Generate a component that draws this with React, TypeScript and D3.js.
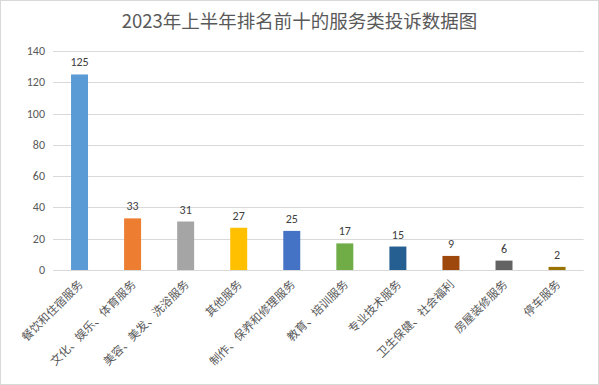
import React from "react";
import * as d3 from "d3";

const title = "2023年上半年排名前十的服务类投诉数据图";
const categories = [
  "餐饮和住宿服务",
  "文化、娱乐、体育服务",
  "美容、美发、洗浴服务",
  "其他服务",
  "制作、保养和修理服务",
  "教育、培训服务",
  "专业技术服务",
  "卫生保健、社会福利",
  "房屋装修服务",
  "停车服务",
];
const values = [125, 33, 31, 27, 25, 17, 15, 9, 6, 2];
const colors = [
  "#5B9BD5",
  "#ED7D31",
  "#A5A5A5",
  "#FFC000",
  "#4472C4",
  "#70AD47",
  "#255E91",
  "#9E480E",
  "#636363",
  "#997300",
];
const yTicks = [0, 20, 40, 60, 80, 100, 120, 140];

const W = 599;
const H = 385;
const left = 53;
const right = 583.6;
const top = 51;
const bottom = 270;

const cjk = "'Noto Sans CJK SC', 'Noto Sans', sans-serif";
const num = "Carlito, Lato, 'Liberation Sans', sans-serif";

export default function App() {
  const x = d3.scaleBand<string>().domain(categories).range([left, right]).paddingInner(0.68).paddingOuter(0.34);
  const y = d3.scaleLinear().domain([0, 140]).range([bottom, top]);
  return (
    <svg
      width={W}
      height={H}
      style={{ position: "fixed", left: 0, top: 0, background: "#fff" }}
    >
      <rect x={0.5} y={0.5} width={W - 1} height={H - 1} fill="#fff" stroke="#d9d9d9" />
      <text x={W / 2} y={28} textAnchor="middle" fontFamily={cjk} fontSize={18.5} fill="#595959">
        {title}
      </text>
      {yTicks.map((t) => (
        <g key={t}>
          <line x1={left} x2={right} y1={Math.round(y(t)) + 0.5} y2={Math.round(y(t)) + 0.5} stroke="#d9d9d9" />
          <text x={45} y={y(t) + 4} textAnchor="end" fontFamily={num} fontSize={12} fill="#595959">
            {t}
          </text>
        </g>
      ))}
      {categories.map((c, i) => {
        const bx = x(c) as number;
        const bw = x.bandwidth();
        const cx = bx + bw / 2;
        return (
          <g key={c}>
            <rect x={bx} y={y(values[i])} width={bw} height={y(0) - y(values[i])} fill={colors[i]} />
            <text x={cx} y={y(values[i]) - 8} textAnchor="middle" fontFamily={num} fontSize={12} fill="#404040">
              {values[i]}
            </text>
            <text
              transform={`translate(${cx + 4},${bottom + 15}) rotate(-45)`}
              textAnchor="end"
              fontFamily={cjk}
              fontSize={11.5}
              fill="#595959"
            >
              {c}
            </text>
          </g>
        );
      })}
    </svg>
  );
}
